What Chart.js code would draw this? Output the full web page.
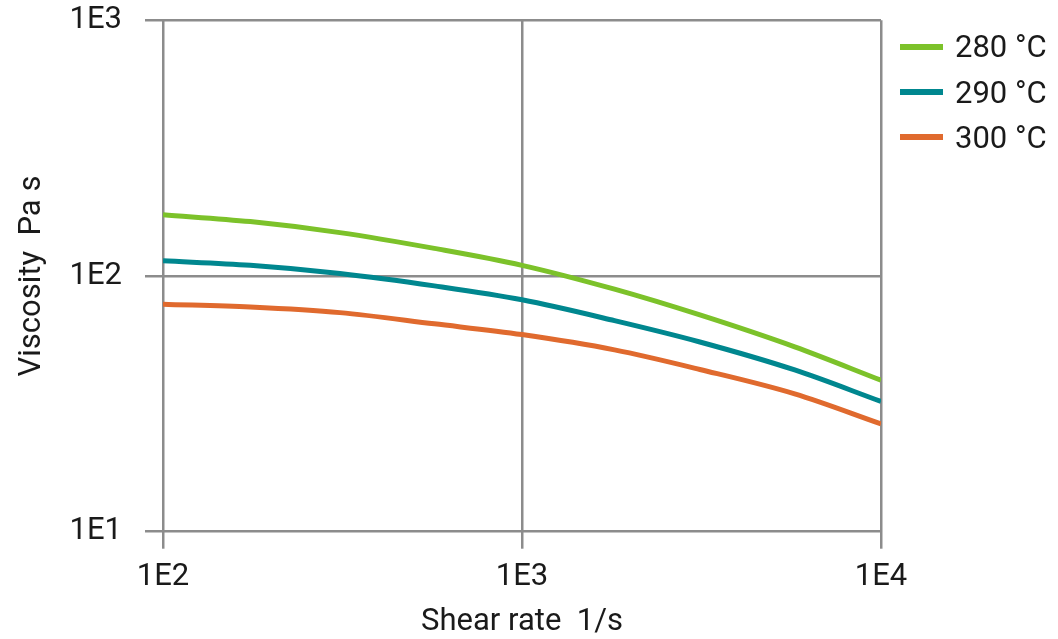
<!DOCTYPE html>
<html>
<head>
<meta charset="utf-8">
<script src="https://cdn.jsdelivr.net/npm/chart.js@4"></script>
<style>
  html, body { margin: 0; padding: 0; background: #ffffff; }
  #wrap { position: relative; width: 1058px; height: 639px; overflow: hidden; }
  #legend { position: absolute; left: 900px; top: 0; font-family: Roboto, "Noto Sans", sans-serif; font-size: 31px; color: #1a1a1a; }
  .row { position: absolute; left: 0; height: 40px; display: flex; align-items: center; white-space: nowrap; }
  .sw { width: 43px; height: 6px; margin-right: 12px; }
</style>
</head>
<body>
<div id="wrap">
  <canvas id="c" width="1058" height="639"></canvas>
  <div id="legend"></div>
</div>
<script>
// ---- data ----
const shearRate = [100, 175, 311, 570, 1000, 1810, 3130, 5750, 10000];
const visc280 = [173.6, 163.2, 147.8, 128.2, 110.1, 88.8, 70.4, 52.8, 39.1];
const visc290 = [114.6, 110.1, 102.3, 91.5, 80.7, 66.9, 55.2, 42.9, 32.3];
const visc300 = [77.6, 75.6, 71.9, 65.0, 59.0, 51.4, 43.1, 34.6, 26.4];
const seriesNames = ['280 °C', '290 °C', '300 °C'];
const seriesColors = ['#7cc22a', '#00878f', '#e06a2e'];
const xTickValues = [100, 1000, 10000];
const xTickLabels = ['1E2', '1E3', '1E4'];
const yTickValues = [10, 100, 1000];
const yTickLabels = ['1E1', '1E2', '1E3'];
const xTitle = 'Shear rate  1/s';
const yTitle = 'Viscosity  Pa s';

const seriesValues = [visc280, visc290, visc300];
const gridColor = '#8c8c8c';
const textColor = '#1a1a1a';
const targetTop = 20.3, targetBottom = 531.7;

Chart.defaults.font.family = 'Roboto, "Noto Sans", sans-serif';

const datasets = seriesValues.map((vals, i) => ({
  label: seriesNames[i],
  data: shearRate.map((x, j) => ({ x: x, y: vals[j] })),
  borderColor: seriesColors[i],
  backgroundColor: seriesColors[i],
  borderWidth: 5,
  pointRadius: 0,
  fill: false,
  cubicInterpolationMode: 'monotone'
}));

new Chart(document.getElementById('c'), {
  type: 'line',
  data: { datasets: datasets },
  options: {
    responsive: false,
    animation: false,
    devicePixelRatio: 1,
    layout: { padding: { top: targetTop, right: 177, bottom: 0, left: 0 } },
    plugins: { legend: { display: false }, tooltip: { enabled: false } },
    scales: {
      x: {
        type: 'logarithmic',
        min: 100, max: 10000,
        afterBuildTicks: (s) => { s.ticks = xTickValues.map(v => ({ value: v })); },
        afterFit: (s) => { s.height = 639 - targetBottom; },
        ticks: {
          autoSkip: false, maxRotation: 0, padding: 10, color: textColor,
          font: { size: 31, lineHeight: 1.2 },
          callback: (v) => { const k = xTickValues.indexOf(Number(v)); return k >= 0 ? xTickLabels[k] : ''; }
        },
        grid: { color: gridColor, lineWidth: 2.5, drawTicks: true, tickLength: 17, tickColor: gridColor },
        border: { display: false },
        title: { display: true, text: xTitle, color: textColor, font: { size: 31, lineHeight: 1 }, padding: { top: 0, bottom: 1.5 } }
      },
      y: {
        type: 'logarithmic',
        min: 10, max: 1000,
        afterBuildTicks: (s) => { s.ticks = yTickValues.map(v => ({ value: v })); },
        afterFit: (s) => { s.width = 163; s.paddingTop = 0; s.paddingBottom = 0; },
        ticks: {
          autoSkip: false, padding: 23, color: textColor,
          font: { size: 31, lineHeight: 1.2 },
          callback: (v) => { const k = yTickValues.indexOf(Number(v)); return k >= 0 ? yTickLabels[k] : ''; }
        },
        grid: { color: gridColor, lineWidth: 2.5, drawTicks: true, tickLength: 18, tickColor: gridColor },
        border: { display: false },
        title: { display: true, text: yTitle, color: textColor, font: { size: 31, lineHeight: 1 }, padding: { top: 16.5, bottom: 0 } }
      }
    }
  }
});

// HTML legend
const legendRowCenters = [46.7, 92.3, 137.3];
const legend = document.getElementById('legend');
seriesNames.forEach((name, i) => {
  const row = document.createElement('div');
  row.className = 'row';
  row.style.top = (legendRowCenters[i] - 20) + 'px';
  const sw = document.createElement('div');
  sw.className = 'sw';
  sw.style.background = seriesColors[i];
  const t = document.createElement('span');
  t.textContent = name;
  row.appendChild(sw);
  row.appendChild(t);
  legend.appendChild(row);
});
</script>
</body>
</html>
